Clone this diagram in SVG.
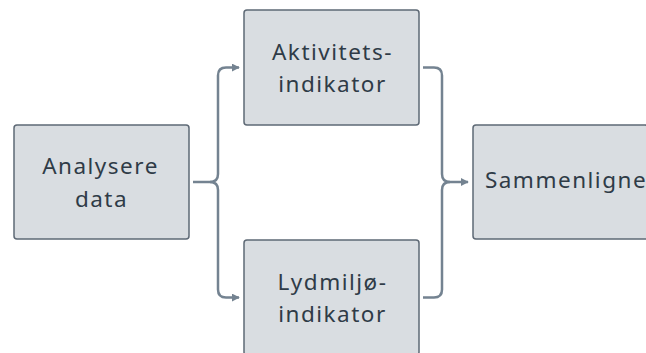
<svg xmlns="http://www.w3.org/2000/svg" width="646" height="353" viewBox="0 0 646 353">
<defs>
<style>
.box{fill:#d9dde1;stroke:#5e6975;stroke-width:1.5}
.lbl{font-family:"Noto Sans","Open Sans",sans-serif;font-size:22.5px;letter-spacing:1.5px;fill:#2f3b47;text-anchor:middle}
.con{fill:none;stroke:#748391;stroke-width:2.5;stroke-linecap:butt}
</style>
<marker id="ah" viewBox="0 0 10 10" refX="9" refY="5" markerWidth="3.2" markerHeight="3.2" orient="auto" markerUnits="strokeWidth">
<path d="M0,0 L10,5 L0,10 z" fill="#748391"/>
</marker>
</defs>
<rect width="646" height="353" fill="#ffffff"/>
<g id="connectors">
<path class="con" d="M193,182 H210 Q218,182 218,174 V75.5 Q218,67.5 226,67.5 H239" marker-end="url(#ah)"/>
<path class="con" d="M210,182 Q218,182 218,190 V289.5 Q218,297.5 226,297.5 H239" marker-end="url(#ah)"/>
<path class="con" d="M423,67.5 H434 Q442,67.5 442,75.5 V174 Q442,182 450,182 H468" marker-end="url(#ah)"/>
<path class="con" d="M423,297.5 H434 Q442,297.5 442,289.5 V190 Q442,182 450,182"/>
</g>
<g id="node-analysere">
<rect class="box" x="14" y="125" width="175" height="114" rx="3"/>
<text class="lbl" x="100.5" y="174">Analysere</text>
<text class="lbl" x="101.5" y="207">data</text>
</g>
<g id="node-aktivitet">
<rect class="box" x="244" y="10" width="175" height="115" rx="3"/>
<text class="lbl" x="332.5" y="60">Aktivitets-</text>
<text class="lbl" x="332.5" y="92">indikator</text>
</g>
<g id="node-lydmiljo">
<rect class="box" x="244" y="240" width="175" height="115" rx="3"/>
<text class="lbl" x="332.5" y="290">Lydmiljø-</text>
<text class="lbl" x="332.5" y="322">indikator</text>
</g>
<g id="node-sammenligne">
<rect class="box" x="473" y="125" width="175" height="114" rx="3"/>
<text class="lbl" x="566" y="188">Sammenligne</text>
</g>
</svg>
